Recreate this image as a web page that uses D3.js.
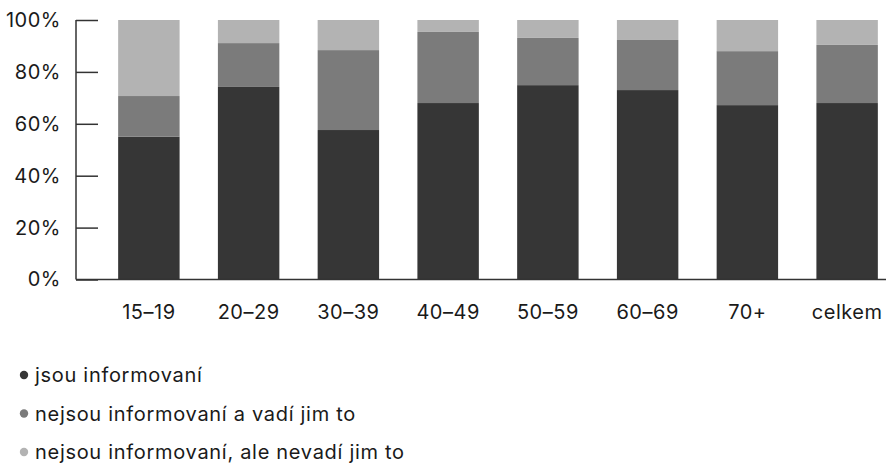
<!DOCTYPE html>
<html><head><meta charset="utf-8">
<script src="https://cdn.jsdelivr.net/npm/d3@7"></script>
<style>
html,body{margin:0;padding:0;background:#fff;}
svg{display:block;font-family:Inter, "Noto Sans", sans-serif;}
</style></head>
<body><svg id="c" width="886" height="464"></svg>
<script>
const categories = ["15–19","20–29","30–39","40–49","50–59","60–69","70+","celkem"];
const informovani = [55.0, 74.2, 57.6, 68.0, 74.9, 73.0, 67.2, 68.0];
const vadi        = [15.7, 16.9, 30.8, 27.4, 18.2, 19.3, 20.8, 22.4];
const nevadi      = [29.3,  8.9, 11.6,  4.6,  6.9,  7.7, 12.0,  9.6];
const seriesNames = ["jsou informovaní","nejsou informovaní a vadí jim to","nejsou informovaní, ale nevadí jim to"];
const yTicks = [0,20,40,60,80,100];
const colors = ["#363636","#7b7b7b","#b3b3b3"];

const svg = d3.select("#c");
const x = d3.scaleBand().domain(categories).range([99, 897]).paddingInner(0.384).paddingOuter(0.192);
const y = d3.scaleLinear().domain([0,100]).range([279.5, 20]);

const rows = categories.map((c,i)=>({cat:c, a:informovani[i], b:vadi[i], c:nevadi[i]}));
const stack = d3.stack().keys(["a","b","c"])(rows);

svg.append("g").selectAll("g").data(stack).join("g")
  .attr("fill",(d,i)=>colors[i])
  .selectAll("rect").data(d=>d).join("rect")
  .attr("x",d=>x(d.data.cat))
  .attr("width",x.bandwidth())
  .attr("y",d=>y(d[1]))
  .attr("height",d=>y(d[0])-y(d[1]));

// y axis
const ya = svg.append("g").attr("transform","translate(76,0)")
  .call(d3.axisRight(y).tickValues(yTicks).tickSize(22).tickFormat(d=>d+"%"));
ya.select(".domain").attr("d", `M0,${y(100)}V${y(0)}`).attr("stroke","#333").attr("stroke-width",1.5);
ya.selectAll(".tick line").attr("stroke","#333").attr("stroke-width",1.5);
ya.selectAll(".tick text").attr("x",-15).attr("text-anchor","end").attr("font-size",20)
  .attr("letter-spacing",0.5).attr("fill","#1a1a1a").attr("font-family","Inter");

// x axis
const xa = svg.append("g").attr("transform",`translate(0,${y(0)})`)
  .call(d3.axisBottom(x).tickSize(0).tickPadding(25));
xa.select(".domain").attr("d","M76,0H886").attr("stroke","#333").attr("stroke-width",1.5);
xa.selectAll(".tick text").attr("font-size",20).attr("letter-spacing",0.5)
  .attr("fill","#1a1a1a").attr("font-family","Inter");

// legend
const lg = svg.append("g").selectAll("g").data(seriesNames).join("g")
  .attr("transform",(d,i)=>`translate(0,${375+i*38.5})`);
lg.append("circle").attr("cx",24).attr("cy",0).attr("r",4.2).attr("fill",(d,i)=>colors[i]);
lg.append("text").attr("x",35).attr("y",0).attr("dy","0.35em").attr("font-size",20)
  .attr("letter-spacing",0.7).attr("fill","#1a1a1a").text(d=>d);
</script></body></html>
